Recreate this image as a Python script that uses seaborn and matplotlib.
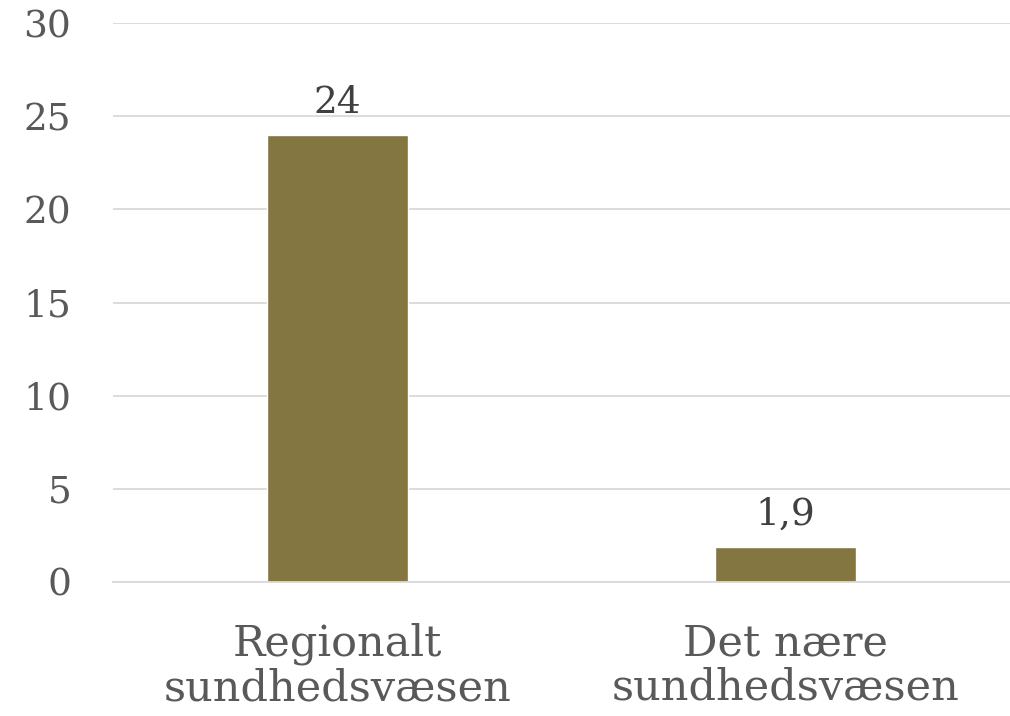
import matplotlib
matplotlib.use("Agg")
import matplotlib.pyplot as plt
import seaborn as sns
import pandas as pd

categories = ["Regionalt\nsundhedsvæsen", "Det nære\nsundhedsvæsen"]
values = [24, 1.9]
value_labels = ["24", "1,9"]
yticks = [0, 5, 10, 15, 20, 25, 30]

sns.set_style("white")
plt.rcParams['font.family'] = ['DejaVu Serif']

df = pd.DataFrame({"cat": categories, "val": values})
fig = plt.figure(figsize=(10.10, 7.16), dpi=100)
ax = fig.add_axes([113/1010, 1-582/716, (1010-113)/1010, (582-23)/716])
sns.barplot(data=df, x="cat", y="val", color="#837640", saturation=1, width=0.315, ax=ax)
ax.set_ylim(0, 30)
ax.set_yticks(yticks)
ax.set_yticklabels([str(t) for t in yticks], fontsize=27, color="#595959")
ax.tick_params(axis='x', labelsize=31, colors="#595959", length=0, pad=29)
ax.tick_params(axis='y', length=0, pad=30)
for lab in ax.get_xticklabels():
    lab.set_linespacing(1.07)
ax.yaxis.grid(True, color="#d9d9d9", linewidth=1.3)
ax.set_axisbelow(True)
for s in ["top", "right", "left"]:
    ax.spines[s].set_visible(False)
ax.spines["bottom"].set_color("#d9d9d9")
ax.spines["bottom"].set_linewidth(1.3)
ax.set_xlabel("")
ax.set_ylabel("")
for i, (v, t) in enumerate(zip(values, value_labels)):
    ax.annotate(t, (i, v), xytext=(0, 10), textcoords="offset points",
                ha="center", va="bottom", fontsize=27, color="#404040")
fig.savefig("out.png", dpi=100)
